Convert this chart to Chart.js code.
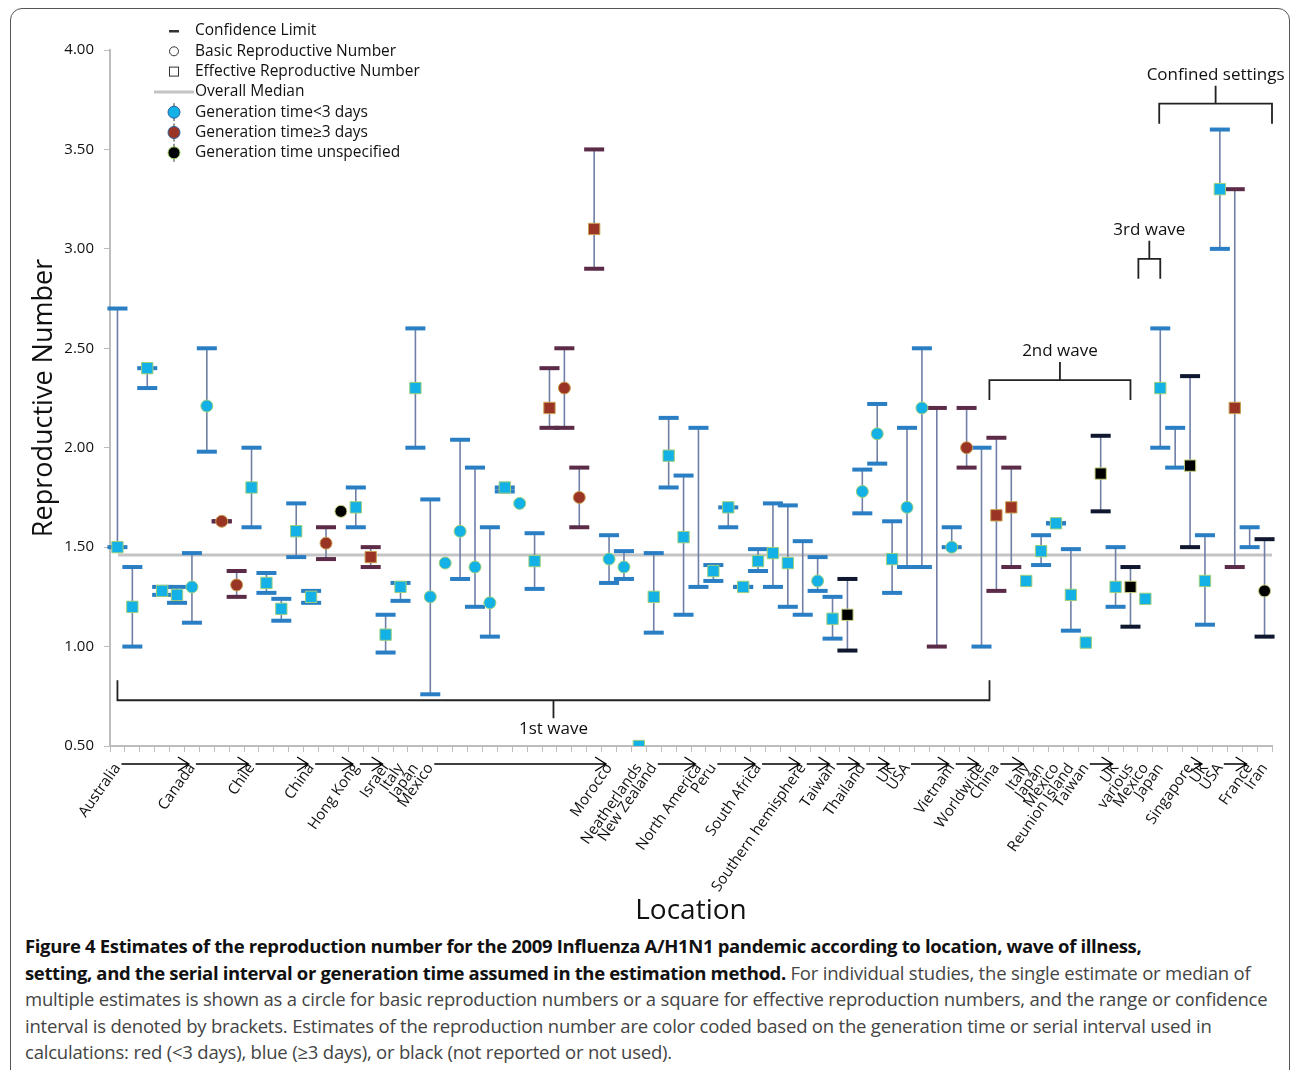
<!DOCTYPE html>
<html><head><meta charset="utf-8">
<script src="https://cdn.jsdelivr.net/npm/chart.js@4"></script>
<style>
body{margin:0;background:#fff;font-family:"Open Sans",sans-serif;}
#frame{position:absolute;left:10px;top:8px;width:1278px;height:1075px;border:1px solid #555;border-radius:12px;}
#wrap{position:absolute;left:0;top:0;width:1292px;height:930px;}
#cap{position:absolute;left:25px;top:933px;width:1255px;font-size:18.5px;line-height:26.5px;color:#444;letter-spacing:-0.2px;}
#cap b{color:#111;letter-spacing:-0.35px;}
</style></head><body>
<div id="frame"></div>
<div id="wrap"><canvas id="c"></canvas></div>
<div id="cap"><b>Figure 4 Estimates of the reproduction number for the 2009 Influenza A/H1N1 pandemic according to location, wave of illness,<br>setting, and the serial interval or generation time assumed in the estimation method.</b> For individual studies, the single estimate or median of multiple estimates is shown as a circle for basic reproduction numbers or a square for effective reproduction numbers, and the range or confidence interval is denoted by brackets. Estimates of the reproduction number are color coded based on the generation time or serial interval used in calculations: red (&lt;3 days), blue (≥3 days), or black (not reported or not used).</div>
<script>
// ---- data ----
const labels = ["Australia","","","","","Canada","","","","Chile","","","","China","","","Hong Kong","","Israel","Italy","Japan","Mexico","","","","","","","","","","","","Morocco","","Neatherlands","New Zealand","","","North America","Peru","","","South Africa","","","Southern hemisphere","","Taiwan","","Thailand","","UK","USA","","","Vietnam","","Worldwide","China","","Italy","Japan","Mexico","Reunion Island","Taiwan","","UK","various","Mexico","Japan","","Singapore","UK","USA","","France","Iran"];
const values = [1.50,1.20,2.40,1.28,1.26,1.30,2.21,1.63,1.31,1.80,1.32,1.19,1.58,1.25,1.52,1.68,1.70,1.45,1.06,1.30,2.30,1.25,1.42,1.58,1.40,1.22,1.80,1.72,1.43,2.20,2.30,1.75,3.10,1.44,1.40,0.50,1.25,1.96,1.55,null,1.38,1.70,1.30,1.43,1.47,1.42,null,1.33,1.14,1.16,1.78,2.07,1.44,1.70,2.20,null,1.50,2.00,null,1.66,1.70,1.33,1.48,1.62,1.26,1.02,1.87,1.30,1.30,1.24,2.30,null,1.91,1.33,3.30,2.20,null,1.28];
const lows =   [1.50,1.00,2.30,1.26,1.22,1.12,1.98,1.63,1.25,1.60,1.27,1.13,1.45,1.22,1.44,null,1.60,1.40,0.97,1.23,2.00,0.76,null,1.34,1.20,1.05,1.78,null,1.29,2.10,2.10,1.60,2.90,1.32,1.34,null,1.07,1.80,1.16,1.30,1.33,1.60,1.30,1.38,1.30,1.20,1.16,1.28,1.04,0.98,1.67,1.92,1.27,1.40,1.40,1.00,1.50,1.90,1.00,1.28,1.40,null,1.41,1.62,1.08,null,1.68,1.20,1.10,null,2.00,1.90,1.50,1.11,3.00,1.40,1.50,1.05];
const highs =  [2.70,1.40,2.40,1.30,1.30,1.47,2.50,1.63,1.38,2.00,1.37,1.24,1.72,1.28,1.60,null,1.80,1.50,1.16,1.32,2.60,1.74,null,2.04,1.90,1.60,1.80,null,1.57,2.40,2.50,1.90,3.50,1.56,1.48,null,1.47,2.15,1.86,2.10,1.41,1.70,1.30,1.49,1.72,1.71,1.53,1.45,1.25,1.34,1.89,2.22,1.63,2.10,2.50,2.20,1.60,2.20,2.00,2.05,1.90,null,1.56,1.62,1.49,null,2.06,1.50,1.40,null,2.60,2.10,2.36,1.56,3.60,3.30,1.60,1.54];
// s = effective (square), c = basic (circle), n = none
const shapes = ["s","s","s","s","s","c","c","c","c","s", "s","s","s","s","c","c","s","s","s","s", "s","c","c","c","c","c","s","c","s","s", "c","c","s","c","c","s","s","s","s","n", "s","s","s","s","s","s","n","c","s","s", "c","c","s","c","c","n","c","c","n","s", "s","s","s","s","s","s","s","s","s","s", "s","n","s","s","s","s","n","c"];
// b = generation time <3 d (blue), r = >=3 d (red), k = unspecified (black)
const groups = "bbbbbbbrrbbbbbrkbrbbbbbbbbbbbrrrrbbbbbbbbbbbbbbbbkbbbbbrbrbrrbbbbbkbkbbbkbbrbk";
const overallMedian = 1.46;
const yTicks = [0.5,1,1.5,2,2.5,3,3.5,4];
const arrows = [[0,5],[5,9],[9,13],[13,16],[16,18],[21,33],[36,39],[40,43],[43,46],[46,48],[48,50],[50,52],[53,56],[56,58],[59,61],[65,67],[72,73],[74,76]];
const brackets = [
 {text:"1st wave",from:0,to:58,y:0.73,dir:1},
 {text:"2nd wave",from:59,to:68,y:2.34,dir:-1},
 {text:"3rd wave",from:69,to:70,y:2.95,dir:-1},
 {text:"Confined settings",from:70.4,to:78.5,y:3.73,dir:-1}
];
// ---- styling ----
const fill = {b:"#14b1e7",r:"#9a3526",k:"#000000"};
const edge = {b:"#9ccf7a",r:"#c9a050",k:"#c8d080"};
const capCol = {b:"#2a7fc4",r:"#5b2b48",k:"#101830"};
function ds(g,s){
  return {type:"line",showLine:false,label:g+s,
    data:values.map((v,i)=>(groups[i]===g&&shapes[i]===s)?v:null),
    pointStyle:s==="s"?"rect":"circle",pointRadius:s==="s"?8:6,
    pointBackgroundColor:fill[g],pointBorderColor:edge[g],pointBorderWidth:1,pointHoverRadius:6};
}
const datasets=[];
["b","r","k"].forEach(g=>["s","c"].forEach(s=>datasets.push(ds(g,s))));

const deco={id:"deco",
 beforeDatasetsDraw(ch){
  const c=ch.ctx,x=ch.scales.x,y=ch.scales.y,a=ch.chartArea;
  c.save();
  c.strokeStyle="#c4c4c4";c.lineWidth=3;
  c.beginPath();c.moveTo(a.left+8,y.getPixelForValue(overallMedian));c.lineTo(a.right,y.getPixelForValue(overallMedian));c.stroke();
  for(let i=0;i<values.length;i++){
    if(lows[i]==null) continue;
    const px=x.getPixelForValue(i),y1=y.getPixelForValue(lows[i]),y2=y.getPixelForValue(highs[i]);
    c.strokeStyle="#6f7fa6";c.lineWidth=1.6;
    c.beginPath();c.moveTo(px,y1);c.lineTo(px,y2);c.stroke();
    [y1,y2].forEach(py=>{
      c.fillStyle=capCol[groups[i]];c.fillRect(px-10,py-2,20,4);
    });
  }
  c.restore();
 },
 afterDraw(ch){
  const c=ch.ctx,x=ch.scales.x,y=ch.scales.y,a=ch.chartArea;
  c.save();
  c.strokeStyle="#000";c.lineWidth=1.3;
  const ay=a.bottom+18;
  arrows.forEach(([f,t])=>{
    const x1=x.getPixelForValue(f)+4,x2=x.getPixelForValue(t)-3;
    c.beginPath();c.moveTo(x1,ay);c.lineTo(x2,ay);
    c.moveTo(x2-11,ay-7);c.lineTo(x2,ay);c.lineTo(x2-11,ay+7);c.stroke();
  });
  c.lineWidth=1.8;c.strokeStyle="#222";c.fillStyle="#111";c.font="17px 'Open Sans'";c.textAlign="center";
  brackets.forEach(b=>{
    const x1=b.from<0.5?x.getPixelForValue(b.from):x.getPixelForValue(b.from)-7;
    const x2=b.to>77?a.right:x.getPixelForValue(b.to)+(b.from<0.5?8:0);
    const py=y.getPixelForValue(b.y),d=b.dir,h=20;
    const mx=(x1+x2)/2;
    c.beginPath();c.moveTo(x1,py-d*h);c.lineTo(x1,py);c.lineTo(x2,py);c.lineTo(x2,py-d*h);
    c.moveTo(mx,py);c.lineTo(mx,py+d*18);c.stroke();
    c.textBaseline=d>0?"top":"bottom";
    c.fillText(b.text,mx,py+d*20);
  });
  const L=[["cap","Confidence Limit"],["oc","Basic Reproductive Number"],["os","Effective Reproductive Number"],["med","Overall Median"],["b","Generation time<3 days"],["r","Generation time\u22653 days"],["k","Generation time unspecified"]];
  c.textAlign="left";c.textBaseline="middle";c.font="15.5px 'Open Sans'";
  L.forEach((l,k)=>{
    const ly=31+k*20.3,lx=174;
    c.strokeStyle="#333";c.lineWidth=1;
    if(l[0]==="cap"){c.fillStyle="#333";c.fillRect(lx-5,ly-1,10,2.5);}
    else if(l[0]==="oc"){c.beginPath();c.arc(lx,ly,4.5,0,7);c.stroke();}
    else if(l[0]==="os"){c.strokeRect(lx-4.5,ly-4.5,9,9);}
    else if(l[0]==="med"){c.strokeStyle="#c4c4c4";c.lineWidth=3;c.beginPath();c.moveTo(lx-20,ly);c.lineTo(lx+20,ly);c.stroke();}
    else{c.strokeStyle="#333";c.beginPath();c.moveTo(lx,ly-9);c.lineTo(lx,ly+9);c.stroke();
      c.fillStyle=fill[l[0]];c.strokeStyle=l[0]==="k"?"#9bcf60":"#2a5f9a";c.beginPath();c.arc(lx,ly,6,0,7);c.fill();c.stroke();}
    c.fillStyle="#111";c.fillText(l[1],195,ly);
  });
  c.restore();
 }};

new Chart(document.getElementById("c"),{
 data:{labels,datasets},
 options:{responsive:true,maintainAspectRatio:false,animation:false,
  layout:{padding:{top:50,right:20,left:24,bottom:0}},
  plugins:{legend:{display:false},tooltip:{enabled:false}},
  scales:{
   x:{type:"category",offset:true,
     grid:{drawOnChartArea:false,color:"#bdbdbd",tickLength:6,offset:true},
     border:{color:"#bdbdbd",width:2},
     ticks:{autoSkip:false,maxRotation:55,minRotation:55,color:"#111",font:{size:15,family:"'Open Sans'"},padding:8},
     title:{display:true,text:"Location",color:"#111",font:{size:28,family:"'Open Sans'"},padding:{top:0,bottom:2}},
     afterFit(s){s.height=184;}},
   y:{min:0.5,max:4,
     afterBuildTicks(s){s.ticks=yTicks.map(v=>({value:v}));},
     afterFit(s){s.width=86;},
     grid:{drawOnChartArea:false,color:"#bdbdbd",tickLength:6},
     border:{color:"#bdbdbd",width:2},
     ticks:{color:"#111",font:{size:15,family:"'Open Sans'"},callback:v=>v.toFixed(2),padding:10},
     title:{display:true,text:"Reproductive Number",color:"#111",font:{size:27,family:"'Open Sans'"},padding:{bottom:4}}}
  }},
 plugins:[deco]
});
</script></body></html>
